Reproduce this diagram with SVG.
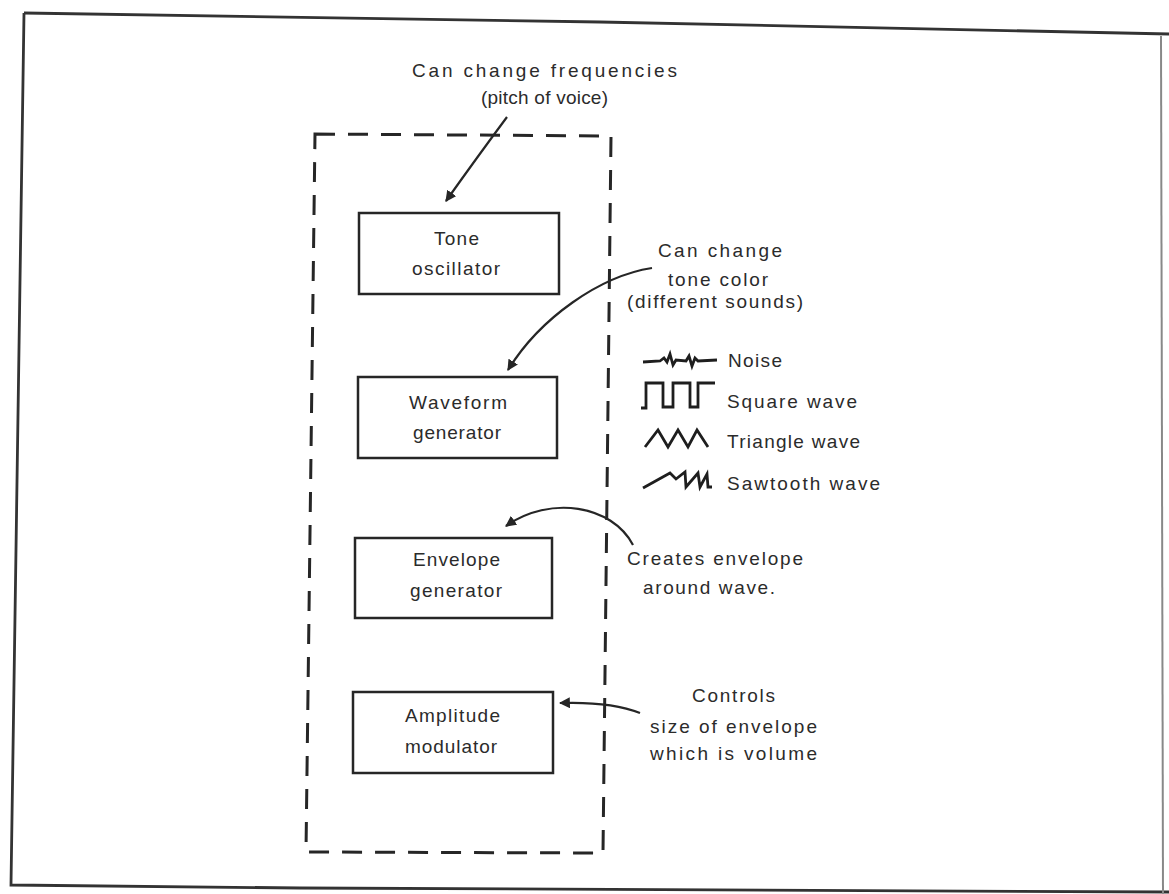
<svg xmlns="http://www.w3.org/2000/svg" width="1169" height="894" viewBox="0 0 1169 894">
<defs>
<style>
text{font-family:"Liberation Sans",Arial,sans-serif;font-size:19px;fill:#2b2b2b;}
.box{fill:none;stroke:#262626;stroke-width:2.5;}
.conn{fill:none;stroke:#262626;stroke-width:2.2;}
.wave{fill:none;stroke:#1e1e1e;stroke-width:2.8;stroke-linejoin:miter;}
.frame{fill:none;stroke:#333;stroke-width:2.8;}
.dash{fill:none;stroke:#262626;stroke-width:3;stroke-dasharray:20 13;}
</style>
<marker id="ah" viewBox="0 0 10 10" refX="9" refY="5" markerWidth="5" markerHeight="5" orient="auto" markerUnits="strokeWidth">
<path d="M0,0 L10,5 L0,10 Z" fill="#262626"/>
</marker>
</defs>
<rect width="1169" height="894" fill="#ffffff"/>
<g id="frame">
<path class="frame" d="M24,13 L600,22 L1169,34"/>
<path class="frame" d="M24,13 L11,885 L300,888 L1169,892"/>
<path d="M1161,36 L1163,894" fill="none" stroke="#888" stroke-width="2"/>
</g>
<g id="synth-boundary">
<path class="dash" d="M315,134 L611,136 L603,853 L306,852 Z"/>
</g>
<g id="tone-oscillator">
<rect class="box" x="359" y="213" width="200" height="81"/>
<text x="434" y="245" textLength="45" lengthAdjust="spacing">Tone</text>
<text x="412" y="275" textLength="88" lengthAdjust="spacing">oscillator</text>
</g>
<g id="waveform-generator">
<rect class="box" x="358" y="377" width="199" height="81"/>
<text x="409" y="409" textLength="98" lengthAdjust="spacing">Waveform</text>
<text x="413" y="439" textLength="88" lengthAdjust="spacing">generator</text>
</g>
<g id="envelope-generator">
<rect class="box" x="355" y="538" width="197" height="80"/>
<text x="413" y="566" textLength="87" lengthAdjust="spacing">Envelope</text>
<text x="410" y="597" textLength="92" lengthAdjust="spacing">generator</text>
</g>
<g id="amplitude-modulator">
<rect class="box" x="353" y="692" width="200" height="81"/>
<text x="405" y="722" textLength="95" lengthAdjust="spacing">Amplitude</text>
<text x="405" y="753" textLength="92" lengthAdjust="spacing">modulator</text>
</g>
<g id="note-frequencies">
<text x="412" y="77" textLength="265" lengthAdjust="spacing">Can change frequencies</text>
<text x="481" y="104" textLength="127" lengthAdjust="spacing">(pitch of voice)</text>
</g>
<g id="note-tone-color">
<text x="658" y="257" textLength="124" lengthAdjust="spacing">Can change</text>
<text x="668" y="286" textLength="100" lengthAdjust="spacing">tone color</text>
<text x="627" y="308" textLength="176" lengthAdjust="spacing">(different sounds)</text>
</g>
<g id="waveform-legend">
<path class="wave" stroke-width="2.4" d="M643,362 L660,361 L664,358 L667,362 L670,354 L673,365 L676,360 L686,361 L689,356 L692,366 L695,358 L698,361 L717,360"/>
<text x="728" y="367" textLength="54" lengthAdjust="spacing">Noise</text>
<path class="wave" d="M641,408 L646,408 L646,383 L663,383 L663,407 L673,407 L673,383 L690,383 L690,407 L698,407 L698,383 L715,383"/>
<text x="727" y="408" textLength="130" lengthAdjust="spacing">Square wave</text>
<path class="wave" d="M645,447 L658,430 L668,447 L678,430 L688,447 L697,430 L708,447"/>
<text x="727" y="448" textLength="133" lengthAdjust="spacing">Triangle wave</text>
<path class="wave" d="M643,488 L670,473 L676,479 L685,472 L686,487 L698,473 L700,487 L707,474 L708,487 L712,487"/>
<text x="727" y="490" textLength="153" lengthAdjust="spacing">Sawtooth wave</text>
</g>
<g id="note-envelope">
<text x="627" y="565" textLength="176" lengthAdjust="spacing">Creates envelope</text>
<text x="643" y="594" textLength="132" lengthAdjust="spacing">around wave.</text>
</g>
<g id="note-volume">
<text x="692" y="702" textLength="83" lengthAdjust="spacing">Controls</text>
<text x="650" y="733" textLength="167" lengthAdjust="spacing">size of envelope</text>
<text x="650" y="760" textLength="167" lengthAdjust="spacing">which is volume</text>
</g>
<g id="connectors">
<path class="conn" marker-end="url(#ah)" d="M507,117 Q478,156 446,201"/>
<path class="conn" marker-end="url(#ah)" d="M652,268 C600,276 540,318 508,370"/>
<path class="conn" marker-end="url(#ah)" d="M633,545 C612,505 550,495 506,526"/>
<path class="conn" marker-end="url(#ah)" d="M640,713 C620,705 590,702 560,703"/>
</g>
</svg>
